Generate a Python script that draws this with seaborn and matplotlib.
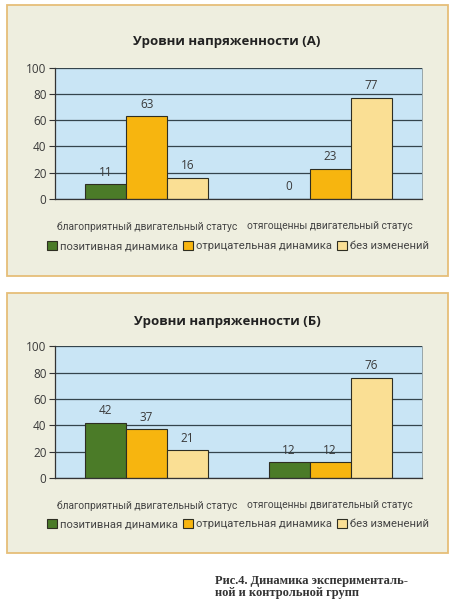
import pandas as pd
import seaborn as sns
import matplotlib.pyplot as plt
from matplotlib.patches import Rectangle, Patch

categories = ['благоприятный двигательный статус', 'отягощенны двигательный статус']
series = ['позитивная динамика', 'отрицательная динамика', 'без изменений']
values_a = [[11, 63, 16], [0, 23, 77]]
values_b = [[42, 37, 21], [12, 12, 76]]
titles = ['Уровни напряженности (А)', 'Уровни напряженности (Б)']
caption = 'Рис.4. Динамика эксперименталь-\nной и контрольной групп'

colors = ['#4b7b28', '#f7b50f', '#fadf94']
narrow = ['Roboto', 'DejaVu Sans']
sns.set_theme(style='white')
plt.rcParams['font.family'] = ['Open Sans', 'DejaVu Sans']


def long_df(values):
    rows = []
    for cat, vals in zip(categories, values):
        for s, v in zip(series, vals):
            rows.append({'cat': cat, 'series': s, 'value': v})
    return pd.DataFrame(rows)


fig = plt.figure(figsize=(4.54, 5.99), dpi=100)
fig.patch.set_facecolor('white')

# (box bottom, box top, axes bottom, axes height, title y, legend y)
layout = [
    (0.539, 0.992, 0.668, 0.219, 0.930, 0.589),
    (0.077, 0.511, 0.202, 0.220, 0.464, 0.125),
]

for values, title, (b0, b1, ab, ah, ty, ly) in zip([values_a, values_b], titles, layout):
    fig.patches.append(Rectangle((0.016, b0), 0.971, b1 - b0, transform=fig.transFigure,
                                 facecolor='#eeeedf', edgecolor='#e6be78', lw=1.3, zorder=-1))
    ax = fig.add_axes([0.121, ab, 0.808, ah])
    df = long_df(values)
    sns.barplot(data=df, x='cat', y='value', hue='series', palette=colors, ax=ax,
                width=0.67, saturation=1, edgecolor='#2e2e22', linewidth=0.8, legend=False)
    ax.set_facecolor('#c9e5f5')
    ax.set_ylim(0, 100)
    ax.set_yticks(range(0, 101, 20))
    ax.set_axisbelow(True)
    ax.yaxis.grid(True, color='#34444c', lw=0.9)
    ax.tick_params(axis='y', left=True, length=4, width=0.8, color='#333333',
                   labelsize=8.5, labelcolor='#3a3a3a', pad=2)
    ax.tick_params(axis='x', bottom=False, labelsize=7.4, labelcolor='#444444', pad=10)
    for lab in ax.get_xticklabels():
        lab.set_family(narrow)
    ax.set_xlabel('')
    ax.set_ylabel('')
    for side in ['left', 'bottom']:
        ax.spines[side].set_color('#333333')
        ax.spines[side].set_linewidth(0.9)
    ax.spines['top'].set_visible(False)
    ax.spines['right'].set_color('#8a9aa0')
    ax.spines['right'].set_linewidth(0.6)
    for cont in ax.containers:
        ax.bar_label(cont, padding=4, fontsize=8.5, color='#3a3a3a')
    fig.text(0.5, ty, title, ha='center', va='center', fontsize=9.5,
             fontweight='bold', color='#222222')
    handles = [Patch(facecolor=c, edgecolor='#2e2e22', lw=0.8) for c in colors]
    fig.legend(handles, series, loc='center', bbox_to_anchor=(0.524, ly), ncol=3,
               frameon=False, handlelength=0.9, handleheight=0.9,
               prop={'family': narrow, 'size': 8.1},
               handletextpad=0.3, columnspacing=0.4, labelcolor='#444444')

fig.text(0.474, 0.040, caption, ha='left', va='top', fontsize=9, fontweight='bold',
         family=['Liberation Serif', 'DejaVu Serif'], color='#333333', linespacing=0.95)

fig.savefig('out.png', dpi=100)
